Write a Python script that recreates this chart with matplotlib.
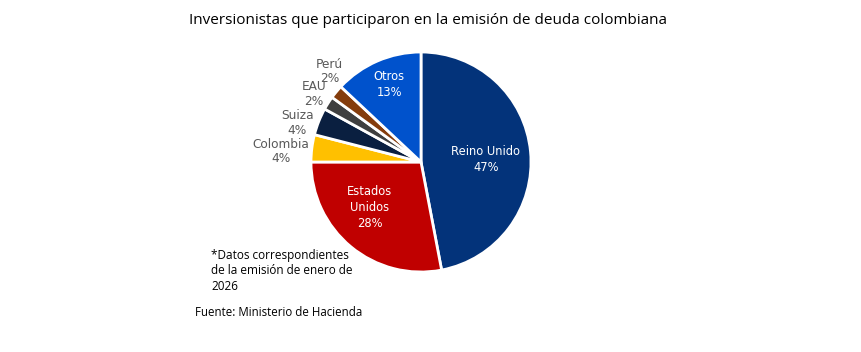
import numpy as np
import matplotlib.pyplot as plt

# Investor share by country (%)
paises = ["Reino Unido", "Estados\nUnidos", "Colombia", "Suiza", "EAU", "Perú", "Otros"]
porcentajes = [47, 28, 4, 4, 2, 2, 13]
colores = ["#03337A", "#C00000", "#FFC000", "#0A1F40", "#3F3F3F", "#843C0C", "#0052CC"]

# label placement (distance as fraction of radius, angle shift in degrees)
dist_label = [0.59, 0.62, 1.28, 1.18, 1.15, 1.17, 0.76]
shift_label = [-3, -9, 3, 4, 0, -5, -1]
dentro = [True, True, False, False, False, False, True]

fig = plt.figure(figsize=(8.62, 3.52), dpi=100)
ax = fig.add_axes([311 / 862, 80 / 352, 220 / 862, 220 / 352])

wedges, _ = ax.pie(porcentajes, colors=colores, startangle=90, counterclock=False,
                   radius=1, wedgeprops=dict(edgecolor="white", linewidth=2))
ax.set_xlim(-1, 1)
ax.set_ylim(-1, 1)
ax.set_aspect("equal")
ax.axis("off")

for w, nombre, p, d, s, inside in zip(wedges, paises, porcentajes, dist_label, shift_label, dentro):
    ang = np.deg2rad((w.theta1 + w.theta2) / 2 + s)
    x, y = d * np.cos(ang), d * np.sin(ang)
    ax.text(x, y, f"{nombre}\n{p}%", ha="center", va="center",
            fontsize=8.3 if inside else 8.7, color="white" if inside else "#595959",
            family="DejaVu Sans", linespacing=1.3 if inside else 1.15)

fig.text(428 / 862, 1 - 20 / 352, "Inversionistas que participaron en la emisión de deuda colombiana",
         ha="center", va="center", fontsize=11, family="Open Sans")
fig.text(211 / 862, 1 - 271 / 352, "*Datos correspondientes\nde la emisión de enero de\n2026",
         ha="left", va="center", fontsize=8.5, family="Open Sans", linespacing=1.3)
fig.text(195 / 862, 1 - 313 / 352, "Fuente: Ministerio de Hacienda",
         ha="left", va="center", fontsize=8.3, family="Open Sans")

fig.savefig("out.png", dpi=100, facecolor="white")
